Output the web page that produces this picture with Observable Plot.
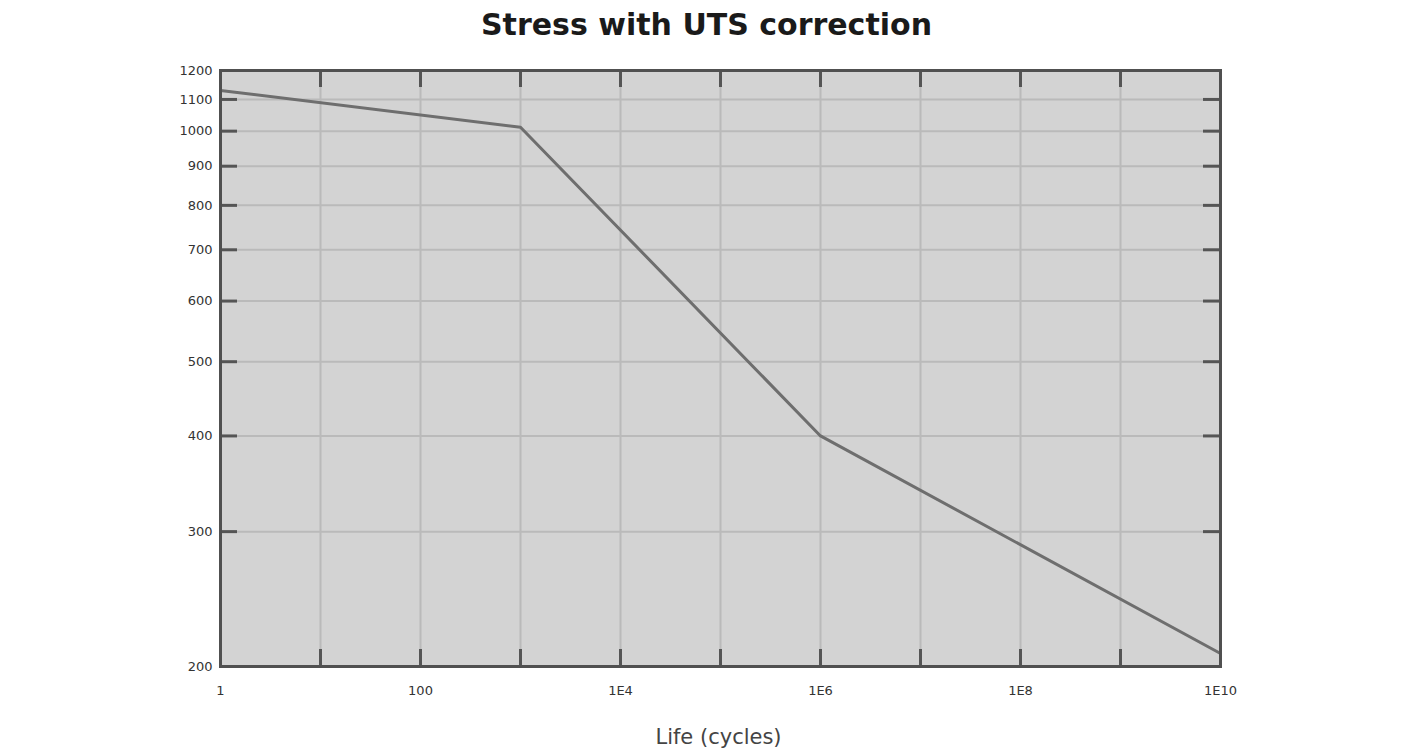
<!DOCTYPE html>
<html>
<head>
<meta charset="utf-8">
<script src="https://cdn.jsdelivr.net/npm/d3@7"></script>
<script src="https://cdn.jsdelivr.net/npm/@observablehq/plot@0.6"></script>
<style>
  body { margin: 0; background: #fff; font-family: "DejaVu Sans", "Liberation Sans", Arial, sans-serif; }
  #title { width: 1417px; height: 50px; line-height: 50px; text-align: center; font-size: 30px; font-weight: bold; color: #1a1a1a; }
  #title span { position: relative; left: -2px; }
  #xlabel { width: 1417px; padding-top: 20px; height: 30px; line-height: 22px; text-align: center; font-size: 21px; color: #444; }
  #xlabel span { position: relative; left: 10px; }
</style>
</head>
<body>
<div id="title"><span>Stress with UTS correction</span></div>
<div id="chart"></div>
<div id="xlabel"><span>Life (cycles)</span></div>
<script>
// Data (S-N curve, log-log)
const lifeCycles = [1, 1000, 1e6, 1e10];
const stressValues = [1130, 1012, 400, 208];

// Axis ticks
const xGridValues = [1, 1e1, 1e2, 1e3, 1e4, 1e5, 1e6, 1e7, 1e8, 1e9, 1e10];
const xLabelValues = [1, 1e2, 1e4, 1e6, 1e8, 1e10];
const xLabelTexts = ["1", "100", "1E4", "1E6", "1E8", "1E10"];
const yTickValues = [200, 300, 400, 500, 600, 700, 800, 900, 1000, 1100, 1200];

const data = lifeCycles.map((x, i) => ({x, y: stressValues[i]}));

const W = 1417, mL = 220, mR = 197, mT = 20, mB = 40, H = 656;
const innerW = W - mL - mR, innerH = H - mT - mB;
const tickLen = 17;
const tickColor = "#555";

const chart = Plot.plot({
  width: W,
  height: H,
  marginLeft: mL,
  marginRight: mR,
  marginTop: mT,
  marginBottom: mB,
  style: {fontFamily: "DejaVu Sans, Liberation Sans, Arial, sans-serif", background: "#fff"},
  x: {type: "log", domain: [1, 1e10]},
  y: {type: "log", domain: [200, 1200]},
  marks: [
    Plot.frame({fill: "#d3d3d3", stroke: null}),
    Plot.gridX(xGridValues, {stroke: "#bababa", strokeOpacity: 1, strokeWidth: 2}),
    Plot.gridY(yTickValues, {stroke: "#bababa", strokeOpacity: 1, strokeWidth: 2}),
    Plot.tickX(xGridValues, {x: d => d, insetTop: innerH - tickLen, stroke: tickColor, strokeWidth: 3}),
    Plot.tickX(xGridValues, {x: d => d, insetBottom: innerH - tickLen, stroke: tickColor, strokeWidth: 3}),
    Plot.tickY(yTickValues, {y: d => d, insetRight: innerW - tickLen, stroke: tickColor, strokeWidth: 3}),
    Plot.tickY(yTickValues, {y: d => d, insetLeft: innerW - tickLen, stroke: tickColor, strokeWidth: 3}),
    Plot.line(data, {x: "x", y: "y", stroke: "#6e6e6e", strokeWidth: 3}),
    Plot.frame({stroke: "#505050", strokeWidth: 3}),
    Plot.axisX(xLabelValues, {
      tickSize: 0, tickPadding: 19, fontSize: 13, fill: "#333", label: null,
      tickFormat: d => xLabelTexts[xLabelValues.indexOf(d)]
    }),
    Plot.axisY(yTickValues, {
      tickSize: 0, tickPadding: 8, fontSize: 13, fill: "#333", label: null,
      tickFormat: d => String(d)
    })
  ]
});
document.getElementById("chart").appendChild(chart);
</script>
</body>
</html>
